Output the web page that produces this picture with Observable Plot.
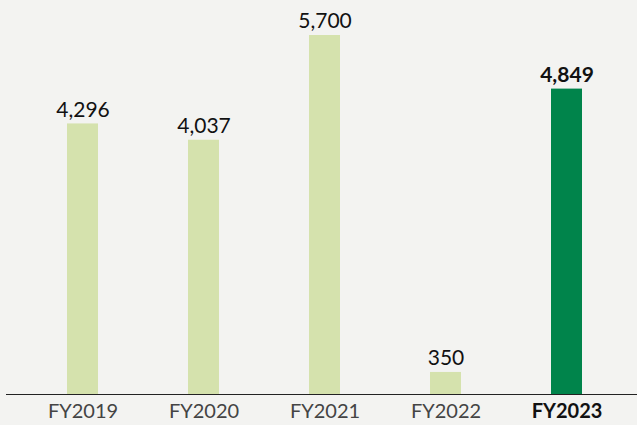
<!DOCTYPE html>
<html>
<head>
<meta charset="utf-8">
<script src="https://cdn.jsdelivr.net/npm/d3@7"></script>
<script src="https://cdn.jsdelivr.net/npm/@observablehq/plot@0.6"></script>
<style>
  html, body { margin: 0; padding: 0; background: #f3f3f1; }
  #chart svg { display: block; }
</style>
</head>
<body>
<div id="chart"></div>
<script>
const years = ["FY2019", "FY2020", "FY2021", "FY2022", "FY2023"];
const values = [4296, 4037, 5700, 350, 4849];
const highlight = [false, false, false, false, true];

const data = years.map((y, i) => ({year: y, value: values[i], hl: highlight[i]}));
const fmt = d3.format(",");

const chart = Plot.plot({
  width: 637,
  height: 425,
  marginTop: 35,
  marginBottom: 31,
  marginLeft: 6,
  marginRight: 0,
  style: {background: "transparent", fontFamily: "Lato, sans-serif"},
  x: {domain: years, range: [22, 627], paddingInner: 0.744, paddingOuter: 0.372, axis: null},
  y: {domain: [0, 5700], axis: null},
  marks: [
    Plot.barY(data, {x: "year", y: "value", fill: d => d.hl ? "#00844b" : "#d5e2ad"}),
    Plot.ruleY([0], {stroke: "#222", strokeWidth: 1.2}),
    Plot.text(data.filter(d => !d.hl), {x: "year", y: "value", text: d => fmt(d.value), dy: -14, fontSize: 21, fill: "#111", lineAnchor: "middle"}),
    Plot.text(data.filter(d => d.hl), {x: "year", y: "value", text: d => fmt(d.value), dy: -14, fontSize: 21, fontWeight: "bold", fill: "#111", lineAnchor: "middle"}),
    Plot.text(data.filter(d => !d.hl), {x: "year", y: 0, text: "year", dy: 17, fontSize: 20, fill: "#444", lineAnchor: "middle"}),
    Plot.text(data.filter(d => d.hl), {x: "year", y: 0, text: "year", dy: 17, fontSize: 20, fontWeight: "bold", fill: "#111", lineAnchor: "middle"})
  ]
});
document.getElementById("chart").append(chart);
</script>
</body>
</html>
